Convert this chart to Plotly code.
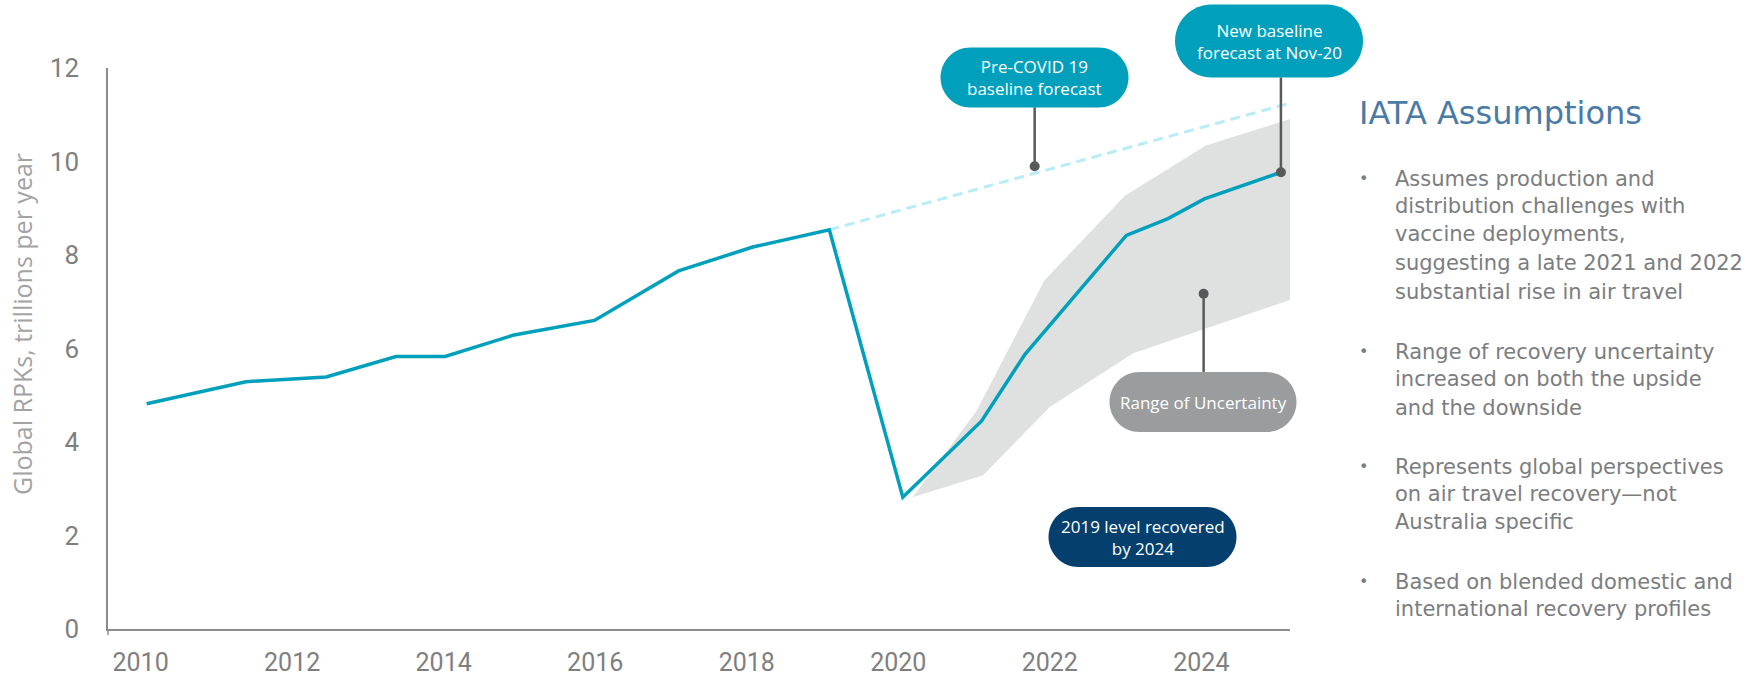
import plotly.graph_objects as go

# ---------------- data ----------------
hist_x = [2010.08, 2011.39, 2012.45, 2013.37, 2014.02, 2014.93, 2015.99, 2017.10, 2018.08, 2019.09]
hist_y = [4.82, 5.29, 5.39, 5.83, 5.83, 6.29, 6.60, 7.66, 8.17, 8.54]

forecast_x = [2019.09, 2020.06, 2021.10, 2021.67, 2023.01, 2023.56, 2024.04, 2025.05]
forecast_y = [8.54, 2.82, 4.45, 5.87, 8.42, 8.78, 9.20, 9.77]

precovid_x = [2019.09, 2025.13]
precovid_y = [8.54, 11.23]

band_upper_x = [2020.19, 2021.03, 2021.93, 2022.99, 2024.06, 2025.17]
band_upper_y = [2.82, 4.66, 7.46, 9.27, 10.34, 10.91]
band_lower_x = [2020.19, 2021.12, 2022.00, 2023.10, 2025.17]
band_lower_y = [2.82, 3.29, 4.75, 5.90, 7.04]

y_ticks = [0, 2, 4, 6, 8, 10, 12]
x_ticks = [2010, 2012, 2014, 2016, 2018, 2020, 2022, 2024]

# callout anchor points (data) and box edge levels
pre_pt = (2021.80, 9.90)
pre_edge = 11.16
new_pt = (forecast_x[-1], forecast_y[-1])
new_edge = 11.80
rng_pt = (2024.03, 7.17)
rng_edge = 5.50

callouts = [
    # text, center px x, center px y, width, height, color
    ("Pre-COVID 19<br>baseline forecast", 1034.5, 77.5, 188, 60, "#00A0BC"),
    ("New baseline<br>forecast at Nov-20", 1269, 41, 188, 73, "#00A0BC"),
    ("Range of Uncertainty", 1203, 402, 187, 60, "#9B9C9E"),
    ("2019 level recovered<br>by 2024", 1142.5, 537, 188, 60, "#043F6D"),
]

title_text = "IATA Assumptions"
bullets = [
    ["Assumes production and", "distribution challenges with", "vaccine deployments,",
     "suggesting a late 2021 and 2022", "substantial rise in air travel"],
    ["Range of recovery uncertainty", "increased on both the upside", "and the downside"],
    ["Represents global perspectives", "on air travel recovery\u2014not", "Australia specific"],
    ["Based on blended domestic and", "international recovery profiles"],
]
bullet_line_y = [
    [178.6, 205.6, 234.4, 263.0, 292.0],
    [351.6, 379.5, 408.0],
    [466.5, 494.4, 521.5],
    [581.5, 609.0],
]

# ---------------- layout geometry ----------------
W, H = 1750, 678
L, R, T, B = 108, 460, 68, 49
PW, PH = W - L - R, H - T - B


def px(xp):
    return (xp - L) / PW


def py(yp):
    return (H - B - yp) / PH


def pill(w, h):
    r = h / 2.0
    k = 0.5523 * r
    x0, x1 = -w / 2.0, w / 2.0
    return (f"M {x0 + r},{-r} L {x1 - r},{-r} "
            f"C {x1 - r + k},{-r} {x1},{-k} {x1},0 "
            f"C {x1},{k} {x1 - r + k},{r} {x1 - r},{r} "
            f"L {x0 + r},{r} "
            f"C {x0 + r - k},{r} {x0},{k} {x0},0 "
            f"C {x0},{-k} {x0 + r - k},{-r} {x0 + r},{-r} Z")


TEAL = "#00A0BC"
PANEL_FONT = "DejaVu Sans"
fig = go.Figure()

fig.add_trace(go.Scatter(
    x=band_upper_x + band_lower_x[::-1],
    y=band_upper_y + band_lower_y[::-1],
    fill="toself", fillcolor="#DFE0E0", mode="lines",
    line=dict(width=0, color="#DFE0E0"), hoverinfo="skip", showlegend=False))

fig.add_trace(go.Scatter(
    x=precovid_x, y=precovid_y, mode="lines",
    line=dict(color="#B8EDF8", width=3, dash="10px,6px"),
    showlegend=False))

fig.add_trace(go.Scatter(
    x=hist_x + forecast_x[1:], y=hist_y + forecast_y[1:], mode="lines",
    line=dict(color=TEAL, width=3.5), showlegend=False))

for (cx, cy), edge in [(pre_pt, pre_edge), (new_pt, new_edge), (rng_pt, rng_edge)]:
    fig.add_trace(go.Scatter(x=[cx, cx], y=[cy, edge], mode="lines",
                             line=dict(color="#58595B", width=2.5),
                             showlegend=False, hoverinfo="skip"))

fig.add_trace(go.Scatter(
    x=[pre_pt[0], new_pt[0], rng_pt[0]], y=[pre_pt[1], new_pt[1], rng_pt[1]],
    mode="markers", marker=dict(color="#58595B", size=10),
    showlegend=False))

shapes = []
annotations = []
for text, cx, cy, w, h, col in callouts:
    shapes.append(dict(type="path", xref="paper", yref="paper",
                       xsizemode="pixel", ysizemode="pixel",
                       xanchor=px(cx), yanchor=py(cy), path=pill(w, h),
                       fillcolor=col, line=dict(width=0), layer="above"))
    annotations.append(dict(xref="paper", yref="paper", x=px(cx), y=py(cy),
                            text=text, showarrow=False, xanchor="center", yanchor="middle",
                            font=dict(family="Open Sans", size=17, color="white"),
                            align="center"))

# y-axis stub below the x axis
shapes.append(dict(type="line", xref="paper", yref="paper", x0=0, x1=0,
                   y0=0, y1=py(H - B + 6), line=dict(color="#8C8C8C", width=1.5)))

# y-axis title
annotations.append(dict(xref="paper", yref="paper", x=px(22), y=py(324),
                        text="Global RPKs, trillions per year", textangle=-90,
                        showarrow=False, xanchor="center", yanchor="middle",
                        font=dict(family="Open Sans", size=25, color="#A3A3A3")))

# right panel
annotations.append(dict(xref="paper", yref="paper", x=px(1357), y=py(113.5),
                        text=title_text, showarrow=False, xanchor="left", yanchor="middle",
                        font=dict(family=PANEL_FONT, size=32, color="#4A7AA5")))
for lines, ys in zip(bullets, bullet_line_y):
    annotations.append(dict(xref="paper", yref="paper", x=px(1363), y=py(ys[0]),
                            text="\u2022", showarrow=False, xanchor="center", yanchor="middle",
                            font=dict(family=PANEL_FONT, size=16, color="#7B7D7F")))
    for line, yy in zip(lines, ys):
        annotations.append(dict(xref="paper", yref="paper", x=px(1393), y=py(yy),
                                text=line, showarrow=False, xanchor="left", yanchor="middle",
                                font=dict(family=PANEL_FONT, size=21, color="#7B7D7F")))

fig.update_layout(
    width=W, height=H,
    margin=dict(l=L, r=R, t=T, b=B),
    paper_bgcolor="white", plot_bgcolor="white",
    shapes=shapes, annotations=annotations,
    showlegend=False,
    xaxis=dict(range=[2009.57, 2025.17], tickvals=x_ticks, ticktext=[str(v) for v in x_ticks],
               showgrid=False, zeroline=False, showline=True, linecolor="#8C8C8C", linewidth=1.5,
               ticks="", ticklabelstandoff=10, automargin=False,
               tickfont=dict(family="Roboto", size=25, color="#7F7F7F")),
    yaxis=dict(range=[0, 12], tickvals=y_ticks, ticktext=[str(v) for v in y_ticks],
               showgrid=False, zeroline=False, showline=True, linecolor="#8C8C8C", linewidth=1.5,
               ticks="", ticklabelstandoff=22, automargin=False,
               tickfont=dict(family="Roboto", size=26, color="#7F7F7F")),
)

fig.write_html("out.html")
